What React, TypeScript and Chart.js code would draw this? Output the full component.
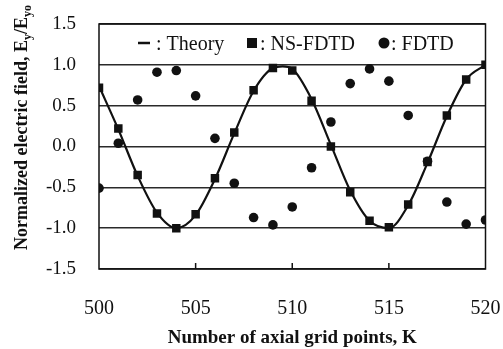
import React, { useEffect, useRef } from "react";
import { Chart, registerables } from "chart.js";

Chart.register(...registerables);

// Axial grid index K and the normalized field Ey/Ey0 at each point
const gridPoints = [500, 501, 502, 503, 504, 505, 506, 507, 508, 509, 510, 511, 512, 513, 514, 515, 516, 517, 518, 519, 520];
const nsFdtdField = [0.72, 0.22, -0.35, -0.82, -1.0, -0.83, -0.39, 0.17, 0.69, 0.96, 0.93, 0.56, 0.0, -0.56, -0.91, -0.99, -0.71, -0.19, 0.38, 0.82, 1.0];
const fdtdField = [-0.51, 0.04, 0.57, 0.91, 0.93, 0.62, 0.1, -0.45, -0.87, -0.96, -0.74, -0.26, 0.3, 0.77, 0.95, 0.8, 0.38, -0.18, -0.68, -0.95, -0.9];

// Theory curve samples
const theoryPoints = [500, 501, 502, 503, 504, 505, 506, 507, 508, 509, 509.5, 510, 511, 512, 513, 514, 515, 516, 517, 518, 519, 520];
const theoryField = [0.74, 0.21, -0.36, -0.81, -1.0, -0.84, -0.4, 0.16, 0.68, 0.96, 0.98, 0.95, 0.58, 0.02, -0.54, -0.91, -1.0, -0.72, -0.2, 0.37, 0.82, 1.0];

const yTickValues = [-1.5, -1.0, -0.5, 0, 0.5, 1.0, 1.5];
const xTickValues = [500, 505, 510, 515, 520];
const innerTickValues = [505, 510, 515];

const xTitle = "Number of axial grid points, K";
const yTitleParts: [string, boolean][] = [
  ["Normalized electric field, E", false],
  ["y", true],
  ["/E", false],
  ["yo", true],
];
const legendLabels = [": Theory", ": NS-FDTD", ": FDTD"];

const SERIF = "'Liberation Serif', 'Times New Roman', serif";
const INK = "#111111";

const decorations = {
  id: "decorations",
  afterDraw(chart: any) {
    const { ctx, chartArea: a, scales } = chart;
    const xs = scales.x;
    ctx.save();

    // plot frame
    ctx.strokeStyle = INK;
    ctx.lineWidth = 1.5;
    ctx.strokeRect(a.left, a.top, a.right - a.left, a.bottom - a.top);

    // inward tick marks on the K axis
    ctx.lineWidth = 1.5;
    for (const k of innerTickValues) {
      const px = xs.getPixelForValue(k);
      ctx.beginPath();
      ctx.moveTo(px, a.bottom);
      ctx.lineTo(px, a.bottom - 6);
      ctx.stroke();
    }

    // legend row inside the plot
    const ly = a.top + 19;
    ctx.fillStyle = INK;
    ctx.font = `20px ${SERIF}`;
    ctx.textAlign = "left";
    ctx.textBaseline = "alphabetic";
    ctx.lineWidth = 2.5;
    ctx.beginPath();
    ctx.moveTo(a.left + 39, ly);
    ctx.lineTo(a.left + 51, ly);
    ctx.stroke();
    ctx.fillText(legendLabels[0], a.left + 57, ly + 7);

    ctx.fillRect(a.left + 148, ly - 5, 10, 10);
    ctx.fillText(legendLabels[1], a.left + 161, ly + 7);

    ctx.beginPath();
    ctx.arc(a.left + 285, ly, 5.5, 0, Math.PI * 2);
    ctx.fill();
    ctx.fillText(legendLabels[2], a.left + 292, ly + 7);

    // x axis title
    ctx.font = `bold 19px ${SERIF}`;
    ctx.textAlign = "center";
    ctx.fillText(xTitle, (a.left + a.right) / 2, 343);

    // y axis title with subscripts
    ctx.translate(27, 250);
    ctx.rotate(-Math.PI / 2);
    ctx.textAlign = "left";
    let cx = 0;
    for (const [text, sub] of yTitleParts) {
      ctx.font = sub ? `bold 12px ${SERIF}` : `bold 18px ${SERIF}`;
      ctx.fillText(text, cx, sub ? 4 : 0);
      cx += ctx.measureText(text).width;
    }
    ctx.restore();
  },
};

export default function App() {
  const canvasRef = useRef<HTMLCanvasElement | null>(null);

  useEffect(() => {
    if (!canvasRef.current) return;
    const chart = new Chart(canvasRef.current, {
      type: "line",
      data: {
        datasets: [
          {
            label: "NS-FDTD",
            data: gridPoints.map((k, i) => ({ x: k, y: nsFdtdField[i] })),
            showLine: false,
            pointStyle: "rect",
            pointRadius: 6,
            pointBackgroundColor: INK,
            pointBorderWidth: 0,
            borderColor: INK,
          },
          {
            label: "FDTD",
            data: gridPoints.map((k, i) => ({ x: k, y: fdtdField[i] })),
            showLine: false,
            pointStyle: "circle",
            pointRadius: 4.8,
            pointBackgroundColor: INK,
            pointBorderWidth: 0,
            borderColor: INK,
          },
          {
            label: "Theory",
            data: theoryPoints.map((k, i) => ({ x: k, y: theoryField[i] })),
            borderColor: INK,
            borderWidth: 2.2,
            pointRadius: 0,
            cubicInterpolationMode: "monotone",
            fill: false,
          },
        ],
      },
      options: {
        animation: false,
        responsive: false,
        maintainAspectRatio: false,
        events: [],
        layout: { padding: { top: 24, right: 17.5, left: 0, bottom: 0 } },
        plugins: {
          legend: { display: false },
          tooltip: { enabled: false },
        },
        scales: {
          x: {
            type: "linear",
            min: 500,
            max: 520,
            afterFit(scale: any) {
              scale.height = 80;
              scale.paddingLeft = 0;
              scale.paddingRight = 0;
            },
            afterBuildTicks(scale: any) {
              scale.ticks = xTickValues.map((v) => ({ value: v }));
            },
            grid: { display: false, drawTicks: false },
            border: { display: false },
            ticks: {
              color: INK,
              font: { family: SERIF, size: 20 },
              padding: 28,
              maxRotation: 0,
              callback: (v: any) => String(v),
            },
          },
          y: {
            type: "linear",
            min: -1.5,
            max: 1.5,
            afterFit(scale: any) {
              scale.width = 99;
              scale.paddingTop = 0;
              scale.paddingBottom = 0;
            },
            afterBuildTicks(scale: any) {
              scale.ticks = yTickValues.map((v) => ({ value: v }));
            },
            grid: { color: "#2a2a2a", lineWidth: 1.4, drawTicks: false },
            border: { display: false },
            ticks: {
              color: INK,
              font: { family: SERIF, size: 19 },
              padding: 23,
              callback: (v: any) => Number(v).toFixed(1),
            },
          },
        },
      },
      plugins: [decorations],
    });
    return () => chart.destroy();
  }, []);

  return (
    <div style={{ position: "fixed", left: 0, top: 0, width: 503, height: 349, background: "#fff" }}>
      <canvas ref={canvasRef} width={503} height={349} style={{ width: 503, height: 349 }} />
    </div>
  );
}
